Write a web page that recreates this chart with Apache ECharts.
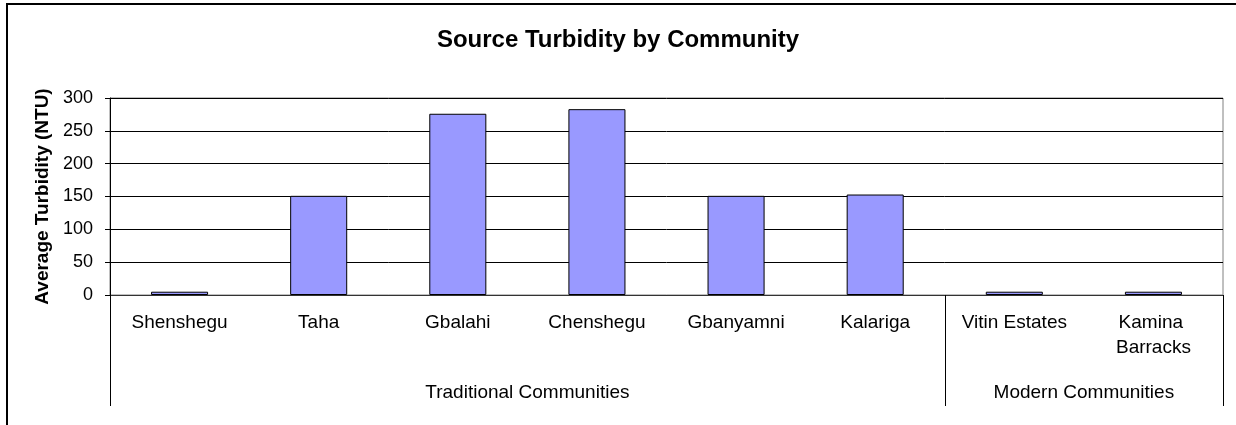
<!DOCTYPE html>
<html>
<head>
<meta charset="utf-8">
<script src="https://cdn.jsdelivr.net/npm/echarts@6/dist/echarts.min.js"></script>
<style>
html,body{margin:0;padding:0;background:#fff;}
#chart{width:1236px;height:425px;}
</style>
</head>
<body>
<div id="chart"></div>
<script>
var categories = ['Shenshegu', 'Taha', 'Gbalahi', 'Chenshegu', 'Gbanyamni', 'Kalariga', 'Vitin Estates', 'Kamina Barracks'];
var turbidity = [5, 151, 276, 283, 151, 153, 5, 5];
var groupNames = ['Traditional Communities', 'Modern Communities'];
var groupSizes = [6, 2];
var yTicks = [0, 50, 100, 150, 200, 250, 300];

// group boundaries and centres on a 0..N scale
var bounds = [0], centres = [];
groupSizes.forEach(function (s, i) {
  var start = bounds[bounds.length - 1];
  centres.push(start + s / 2);
  bounds.push(start + s);
});

var chart = echarts.init(document.getElementById('chart'));
var FONT = 'Liberation Sans, Arial, sans-serif';
chart.setOption({
  animation: false,
  backgroundColor: '#fff',
  title: {
    text: 'Source Turbidity by Community',
    left: 'center',
    top: 23,
    textStyle: { fontFamily: FONT, fontSize: 24, fontWeight: 'bold', color: '#000' }
  },
  graphic: [{
    type: 'rect', silent: true,
    shape: { x: 7, y: 4, width: 1260, height: 460 },
    style: { fill: 'none', stroke: '#000', lineWidth: 2 }
  }],
  grid: { left: 110, right: 13, top: 98, bottom: 130, show: true, borderColor: '#808080', borderWidth: 1 },
  xAxis: [{
    type: 'category',
    data: categories,
    position: 'bottom',
    axisLine: { show: true, lineStyle: { color: '#333', width: 1 } },
    axisTick: { show: false },
    axisLabel: {
      interval: 0, margin: 15, fontFamily: FONT, fontSize: 19, color: '#000',
      width: 118, overflow: 'break', lineHeight: 25
    },
    splitLine: { show: false }
  }, {
    type: 'value',
    min: bounds[0], max: bounds[bounds.length - 1],
    position: 'bottom',
    axisLine: { show: false },
    splitLine: { show: false },
    axisTick: { show: true, customValues: bounds, length: 111, lineStyle: { color: '#000', width: 1 } },
    axisLabel: {
      show: true, customValues: centres, margin: 88, fontFamily: FONT, fontSize: 19, color: '#000',
      formatter: function (v) { var i = centres.indexOf(v); return i >= 0 ? groupNames[i] : ''; }
    }
  }],
  yAxis: {
    type: 'value',
    min: yTicks[0], max: yTicks[yTicks.length - 1], interval: yTicks[1] - yTicks[0],
    name: 'Average Turbidity (NTU)',
    nameLocation: 'middle',
    nameGap: 58,
    nameTextStyle: { fontFamily: FONT, fontSize: 19, fontWeight: 'bold', color: '#000' },
    axisLine: { show: true, lineStyle: { color: '#000', width: 1 } },
    axisTick: { show: true, length: 5, lineStyle: { color: '#000' } },
    axisLabel: { margin: 17, fontFamily: FONT, fontSize: 18, color: '#000' },
    splitLine: { show: true, lineStyle: { color: '#000', width: 1 } }
  },
  series: [{
    type: 'bar',
    data: turbidity,
    barCategoryGap: '59%',
    itemStyle: { color: '#9999FF', borderColor: '#000', borderWidth: 1 }
  }]
});
</script>
</body>
</html>
